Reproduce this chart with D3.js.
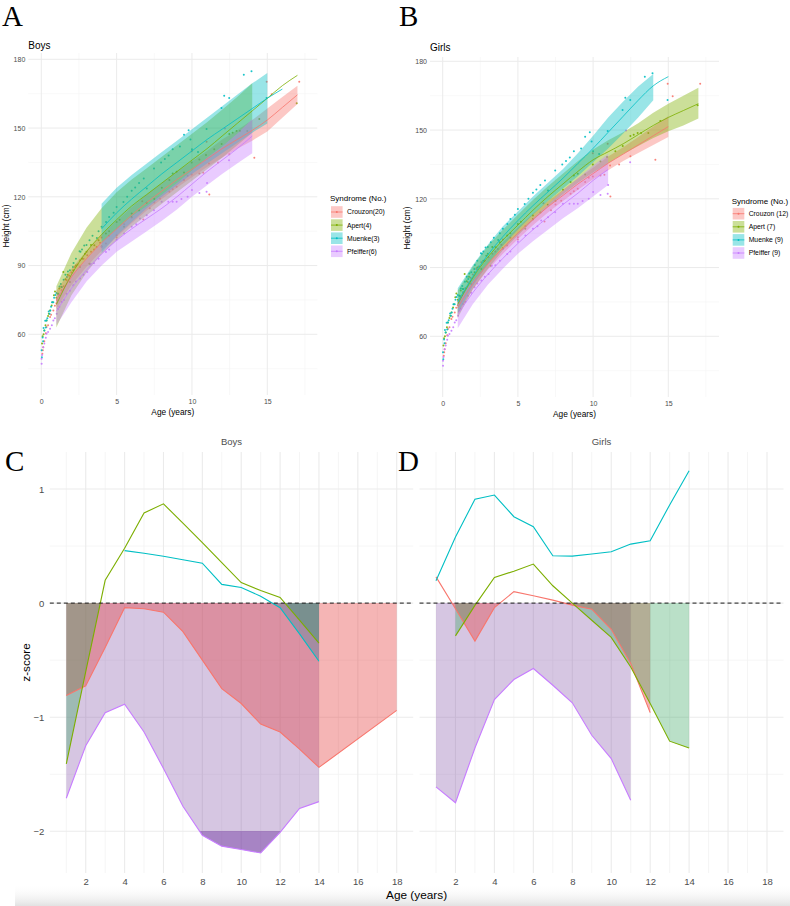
<!DOCTYPE html>
<html><head><meta charset="utf-8">
<script src="https://cdn.jsdelivr.net/npm/d3@7"></script>
<style>body{margin:0;background:#fff}svg{display:block}</style>
</head><body><svg id="c" width="790" height="906"></svg>
<script>
// ---------------- DATA ----------------
const syndromes = ["Crouzon", "Apert", "Muenke", "Pfeiffer"];
const lineColors = ["#F8766D", "#7CAE00", "#00BFC4", "#C77CFF"];
const boysLegend = ["Crouzon(20)", "Apert(4)", "Muenke(3)", "Pfeiffer(6)"];
const girlsLegend = ["Crouzon (12)", "Apert (7)", "Muenke (9)", "Pfeiffer (9)"];
const heightTicks = [60, 90, 120, 150, 180];
const ageTicksTop = [0, 5, 10, 15];
const zTicks = [-2, -1, 0, 1];
const ageTicksZ = [2, 4, 6, 8, 10, 12, 14, 16, 18];

// observed heights [age, cm] (same points shown in panels A and B)
const crouzonPts = [[0.07,51.5],[0.1,53],[0.13,54.4],[0.2,57],[0.3,60.5],[0.35,63.2],[0.45,64],[0.58,67.5],[0.65,68.5],[0.8,70.4],[0.9,72.5],[1.0,73.5],[1.06,74.8],[1.2,77],[1.35,79.2],[1.5,81],[1.68,83.6],[1.85,85.5],[2.0,87],[2.23,89.4],[2.4,90.5],[2.57,92.3],[2.8,93],[3.05,94.5],[3.3,96],[3.5,97],[3.67,98.1],[3.9,100],[4.0,102.2],[4.29,99.6],[4.5,103],[5.0,103.2],[5.0,102.2],[5.5,108],[6.0,111],[6.7,118.1],[6.77,110.1],[7.2,115],[7.5,117.5],[7.88,119.1],[8.5,122.2],[8.72,123.3],[8.98,124.4],[9.47,127.3],[9.71,129.2],[9.98,129.7],[9.98,139.9],[10.49,130.2],[10.75,130.5],[10.97,144],[11.13,134.5],[11.15,121],[11.73,135],[12.48,138.6],[14.14,137],[14.96,170.2],[15.29,164.8],[17.12,170.2]];
const apertPts = [[0.05,56],[0.09,59.1],[0.15,60],[0.2,61.7],[0.28,64],[0.35,66],[0.45,68],[0.5,69],[0.58,70.4],[0.69,72.6],[0.75,74],[0.84,77],[0.91,78.7],[1.0,76],[1.13,77.7],[1.2,80],[1.35,80.6],[1.46,87.2],[1.6,84],[1.75,86],[1.9,82.8],[2.12,87.9],[2.3,90],[2.57,89.4],[2.7,93],[2.9,95.2],[3.0,96],[3.19,90.8],[3.3,99],[3.52,98.9],[3.8,101],[4.0,98.4],[4.29,104],[4.5,105],[5.0,109],[5.2,110],[5.49,106.9],[6.0,111.2],[6.0,112.7],[6.5,114],[6.99,117.4],[7.5,119],[8.0,124],[8.5,127.3],[8.72,130.2],[8.98,130.9],[9.47,130.6],[9.98,135],[10.49,136.3],[10.93,138.2],[11.48,140.8],[11.97,143],[12.48,147.4],[12.7,148],[12.96,148.7],[13.19,148.7],[13.67,148.7],[14.47,153.9],[16.95,160.8]];
const muenkePts = [[0.02,53],[0.04,50],[0.09,58.6],[0.12,57],[0.15,62.7],[0.2,61.7],[0.26,65.9],[0.3,63],[0.35,66],[0.4,67],[0.49,70],[0.55,69],[0.6,70.4],[0.65,72],[0.71,74],[0.8,74],[0.85,76],[0.93,77.2],[1.0,78],[1.1,77.7],[1.21,80.9],[1.3,82],[1.35,80.6],[1.48,83.8],[1.6,86],[1.7,85],[1.77,87.4],[1.9,88],[2.1,89.4],[2.14,91.1],[2.3,93],[2.54,96.2],[2.6,96],[2.7,97],[2.85,98.8],[3.0,99],[3.2,101],[3.4,103],[3.69,102],[3.8,105],[4.0,106.9],[4.3,109],[4.5,111.2],[4.8,113],[5.0,115.6],[5.45,117.7],[5.7,120],[6.0,122.6],[6.23,124.1],[6.49,126],[6.8,128],[7.0,123.6],[7.48,132.3],[7.95,135],[8.2,136.5],[8.45,138],[8.72,140.8],[9.2,142],[9.47,147.1],[9.78,149],[9.9,145],[10.0,140.8],[10.4,139.6],[10.97,149.6],[11.96,158.7],[12.14,164.1],[12.47,163.1],[13.44,173.3],[13.95,174.8],[14.95,163.1]];
const pfeifferPts = [[0.02,47.1],[0.02,49.3],[0.05,51],[0.13,54.4],[0.2,56],[0.3,58.5],[0.35,60.2],[0.45,61],[0.58,62.4],[0.7,64],[0.8,66],[0.9,67],[1.02,69],[1.1,71],[1.2,72],[1.35,74.1],[1.5,75],[1.68,77.7],[1.9,79],[2.12,81.4],[2.3,83],[2.57,84.3],[2.8,86],[3.05,87.2],[3.27,90.8],[3.5,91],[3.8,93],[4.0,98.1],[4.29,95.9],[4.5,97],[5.0,101.3],[5.5,104],[6.0,106.9],[6.3,108],[6.55,110.5],[7.0,112],[7.48,114.1],[7.99,117.8],[8.43,117.8],[8.72,117.8],[8.98,117.8],[9.3,119],[9.71,120],[10.0,123],[10.49,121.7],[10.97,122.2],[11.0,126],[12.19,149.8],[12.46,136]];

// fitted curves [age, cm] and bands [age, lo, hi] - boys
const boysCrouzonFit = [[1,75],[2,85],[3,93],[4,100],[5,106],[6,112],[7,117.5],[8,122.5],[9,127.5],[10,132],[11,136.5],[12,141],[13,145],[14,149],[15,153.5],[16,159],[17,164.5]];
const boysCrouzonBand = [[1,71,79],[2,81.5,88.5],[3,89.5,96.5],[4,96.5,103.5],[5,102.5,109.5],[6,108.5,115.5],[7,114,121],[8,119,126],[9,124,131],[10,128.5,135.5],[11,133,140],[12,137,145],[13,141,149],[14,144.5,153.5],[15,148.5,158.5],[16,154.5,163.5],[17,160.5,168.5]];
const boysApertFit = [[1,73],[2,86],[3,96],[4,103.5],[5,110],[6,116],[7,121],[8,126],[9,131],[10,136],[11,141],[12,146.5],[13,152],[14,157.5],[15,163],[16,168.5],[17,173]];
const boysApertBand = [[1,63,81],[2,77,95.5],[3,87,106.5],[4,95,115],[5,101,122],[6,107,127.5],[7,112,132.5],[8,117,137.5],[9,122,142.5],[10,127,147.5],[11,132,152.5],[12,137,158],[13,142.5,163.5],[14,148,169.5]];
const boysMuenkeFit = [[4,106],[5,113],[6,119],[7,124.5],[8,130],[9,135],[10,140],[11,145],[12,149.5],[13,154],[14,158.5],[15,163],[16,167]];
const boysMuenkeBand = [[4,95.5,117],[5,103,124],[6,109,129.5],[7,115,134.5],[8,120,139.5],[9,125,144.5],[10,130,149.5],[11,134.5,154.5],[12,139,159.5],[13,143.5,164.5],[14,148,169.5],[15,152,174]];
const boysPfeifferFit = [[1,70],[2,80],[3,88],[4,95],[5,101],[6,106],[7,110.5],[8,115],[9,120],[10,125.5],[11,131],[12,136],[13,141],[14,146.5]];
const boysPfeifferBand = [[1,64,76],[2,74,86],[3,83,93],[4,90,100],[5,96,106],[6,100.5,111.5],[7,105,116],[8,109.5,121],[9,114.5,126],[10,120,131.5],[11,125,137],[12,130,142],[13,134.5,147.5],[14,139,154]];

// fitted curves and bands - girls
const girlsCrouzonFit = [[1,72.5],[2,83],[3,91.5],[4,98.5],[5,105],[6,111],[7,116.5],[8,121.5],[9,126.5],[10,131],[11,135.5],[12,139.5],[13,143.5],[14,147.5],[15,151.5]];
const girlsCrouzonBand = [[1,69.5,75.5],[2,80.5,85.5],[3,89,94],[4,96,101],[5,102.5,107.5],[6,108.5,113.5],[7,114,119],[8,119,124],[9,124,129],[10,128.5,133.5],[11,132.5,138.5],[12,136.5,142.5],[13,140,147],[14,143.5,151.5],[15,147,156]];
const girlsApertFit = [[1,74],[2,85.5],[3,94.5],[4,102],[5,108.5],[6,115],[7,121],[8,126.5],[9,132],[10,137],[11,140.5],[12,144],[13,148],[14,152],[15,155.5],[16,158.5],[17,161.5]];
const girlsApertBand = [[1,68,80],[2,80.5,90.5],[3,89.5,99.5],[4,97.5,106.5],[5,104,113],[6,110.5,119.5],[7,116.5,125.5],[8,122,131],[9,127,136.5],[10,131.5,141.5],[11,135.5,145.5],[12,139.5,149],[13,143,153],[14,146.5,157.5],[15,149.5,161.5],[16,152,165],[17,155,168.5]];
const girlsMuenkeFit = [[1,75],[2,86],[3,95.5],[4,103.5],[5,110.5],[6,117],[7,123],[8,129],[9,135.5],[10,142],[11,149],[12,156],[13,163],[14,169.3],[15,173.3]];
const girlsMuenkeBand = [[1,70,81],[2,82,91],[3,91.5,100],[4,99.5,108],[5,106.5,114.5],[6,113,121],[7,119,127],[8,124.5,133],[9,130,140],[10,136,147.5],[11,142,155.5],[12,148.5,162.5],[13,155.5,169],[14,163,174.5]];
const girlsPfeifferFit = [[1,69.5],[2,79],[3,87],[4,94],[5,100.5],[6,106.5],[7,112],[8,117.5],[9,122.5],[10,128],[11,132.8]];
const girlsPfeifferBand = [[1,63.5,75.5],[2,74,84],[3,82.5,91.5],[4,89.5,98.5],[5,96,105],[6,101.5,111.5],[7,106.5,117.5],[8,111.5,123.5],[9,116,129],[10,121,134.5],[11,126,139.5]];

// z-scores [age, z]
const boysZCrouzon = [[1,-0.81],[2,-0.725],[3,-0.39],[4,-0.04],[5,-0.05],[6,-0.08],[7,-0.25],[8,-0.5],[9,-0.75],[10,-0.88],[11,-1.06],[12,-1.13],[13,-1.28],[14,-1.44],[18,-0.94]];
const boysZApert = [[1,-1.41],[2,-0.6],[3,0.2],[4,0.48],[5,0.79],[6,0.87],[7,0.7],[8,0.53],[9,0.355],[10,0.18],[11,0.11],[12,0.05],[13,-0.15],[14,-0.35]];
const boysZMuenke = [[4,0.46],[5,0.437],[6,0.41],[7,0.38],[8,0.35],[9,0.164],[10,0.137],[11,0.06],[12,-0.04],[13,-0.27],[14,-0.51]];
const boysZPfeiffer = [[1,-1.71],[2,-1.25],[3,-0.96],[4,-0.886],[5,-1.13],[6,-1.45],[7,-1.78],[8,-2.035],[9,-2.13],[10,-2.16],[11,-2.19],[12,-2.01],[13,-1.8],[14,-1.74]];
const girlsZCrouzon = [[1,0.23],[2,-0.05],[3,-0.333],[4,-0.04],[5,0.1],[6,0.064],[7,0.026],[8,-0.018],[9,-0.053],[10,-0.23],[11,-0.53],[12,-0.96]];
const girlsZApert = [[2,-0.287],[3,-0.02],[4,0.225],[5,0.28],[6,0.342],[7,0.152],[8,0.0],[9,-0.15],[10,-0.3],[11,-0.56],[12,-0.88],[13,-1.21],[14,-1.27]];
const girlsZMuenke = [[1,0.196],[2,0.58],[3,0.91],[4,0.947],[5,0.757],[6,0.67],[7,0.415],[8,0.412],[9,0.43],[10,0.45],[11,0.517],[12,0.547],[13,0.86],[14,1.16]];
const girlsZPfeiffer = [[1,-1.61],[2,-1.75],[3,-1.27],[4,-0.845],[5,-0.67],[6,-0.573],[7,-0.72],[8,-0.874],[9,-1.158],[10,-1.363],[11,-1.728]];
const zRefLine = 0;
const zDeepLine = -2;

// ---------------- STYLE ----------------
const bandFill = ["rgba(248,118,109,0.4)", "rgba(124,174,0,0.4)", "rgba(0,191,196,0.4)", "rgba(199,124,255,0.4)"];
const zFill = ["rgba(230,60,60,0.38)", "rgba(46,160,87,0.33)", "rgba(0,128,160,0.25)", "rgba(138,92,172,0.35)"];
const zDeepFill = ["rgba(200,40,40,0.45)", "rgba(40,140,80,0.45)", "rgba(0,110,150,0.45)", "rgba(110,50,160,0.45)"];
const SANS = '"Liberation Sans", Arial, Helvetica, sans-serif';
const SERIF = '"Liberation Serif", "Times New Roman", "DejaVu Serif", serif';
const GRID = "#ebebeb", GRIDMINOR = "#f3f3f3";

const svg = d3.select("#c");
svg.append("rect").attr("width", 790).attr("height", 906).attr("fill", "#fff");

// bottom shading strip
const defs = svg.append("defs");
const grad = defs.append("linearGradient").attr("id", "shade").attr("x1", 0).attr("x2", 0).attr("y1", 0).attr("y2", 1);
grad.append("stop").attr("offset", "0%").attr("stop-color", "#fff").attr("stop-opacity", 0);
grad.append("stop").attr("offset", "100%").attr("stop-color", "#e2e2e2").attr("stop-opacity", 1);
svg.append("rect").attr("x", 15).attr("y", 884).attr("width", 775).attr("height", 22).attr("fill", "url(#shade)");

function letter(t, x, y) {
  svg.append("text").attr("x", x).attr("y", y).text(t)
    .attr("font-family", SERIF).attr("font-size", 29).attr("fill", "#000");
}

// ---------------- TOP PANELS ----------------
function drawTop(o) {
  const g = svg.append("g");
  const x = d3.scaleLinear().domain([0, 15]).range(o.xr);
  const y = d3.scaleLinear().domain([60, 180]).range(o.yr);
  const [px0, px1, py0, py1] = o.panel;
  const minorX = [2.5, 7.5, 12.5, 17.5], minorY = [45, 75, 105, 135, 165];
  g.selectAll(null).data(minorX).join("line")
    .attr("x1", d => x(d)).attr("x2", d => x(d)).attr("y1", py0).attr("y2", py1)
    .attr("stroke", GRIDMINOR).attr("stroke-width", 0.6);
  g.selectAll(null).data(minorY).join("line")
    .attr("y1", d => y(d)).attr("y2", d => y(d)).attr("x1", px0).attr("x2", px1)
    .attr("stroke", GRIDMINOR).attr("stroke-width", 0.6);
  g.selectAll(null).data(ageTicksTop).join("line")
    .attr("x1", d => x(d)).attr("x2", d => x(d)).attr("y1", py0).attr("y2", py1)
    .attr("stroke", GRID).attr("stroke-width", 1);
  g.selectAll(null).data(heightTicks).join("line")
    .attr("y1", d => y(d)).attr("y2", d => y(d)).attr("x1", px0).attr("x2", px1)
    .attr("stroke", GRID).attr("stroke-width", 1);

  const ax = g.append("g").attr("transform", `translate(0,${py1})`)
    .call(d3.axisBottom(x).tickValues(ageTicksTop).tickSize(0).tickPadding(4.5));
  const ay = g.append("g").attr("transform", `translate(${px0},0)`)
    .call(d3.axisLeft(y).tickValues(heightTicks).tickSize(0).tickPadding(3));
  [ax, ay].forEach(a => {
    a.select(".domain").remove();
    a.selectAll("text").attr("font-family", SANS).attr("font-size", 7).attr("fill", "#4d4d4d");
  });

  const pts = [crouzonPts, apertPts, muenkePts, pfeifferPts];
  pts.forEach((arr, i) => {
    g.append("g").selectAll("circle").data(arr).join("circle")
      .attr("cx", d => x(d[0])).attr("cy", d => y(d[1])).attr("r", 1)
      .attr("fill", lineColors[i]).attr("opacity", 0.9);
  });
  const area = d3.area().x(d => x(d[0])).y0(d => y(d[1])).y1(d => y(d[2]));
  o.bands.forEach((b, i) => {
    g.append("path").datum(b).attr("d", area).attr("fill", bandFill[i]);
  });
  const line = d3.line().x(d => x(d[0])).y(d => y(d[1])).curve(d3.curveMonotoneX);
  o.fits.forEach((f, i) => {
    g.append("path").datum(f).attr("d", line).attr("fill", "none")
      .attr("stroke", lineColors[i]).attr("stroke-width", 0.8);
  });

  g.append("text").attr("x", o.titleX).attr("y", o.titleY).text(o.title)
    .attr("font-family", SANS).attr("font-size", 10).attr("fill", "#000");
  g.append("text").attr("x", (px0 + px1) / 2).attr("y", o.xlabY).attr("text-anchor", "middle")
    .text("Age (years)").attr("font-family", SANS).attr("font-size", 8.3).attr("fill", "#000");
  g.append("text").attr("transform", `translate(${o.ylabX},${o.ylabY}) rotate(-90)`).attr("text-anchor", "middle")
    .text("Height (cm)").attr("font-family", SANS).attr("font-size", 8.3).attr("fill", "#000");

  const lg = g.append("g").attr("transform", `translate(${o.legX},${o.legY})`);
  lg.append("text").attr("x", 0).attr("y", 0).text("Syndrome (No.)")
    .attr("font-family", SANS).attr("font-size", 8).attr("fill", "#000");
  o.legend.forEach((lab, i) => {
    const cy = o.legRow0 + i * o.legStep;
    lg.append("rect").attr("x", 1).attr("y", cy - 5.8).attr("width", 11.6).attr("height", 11.6).attr("fill", bandFill[i]);
    lg.append("line").attr("x1", 1).attr("x2", 12.6).attr("y1", cy).attr("y2", cy).attr("stroke", lineColors[i]).attr("stroke-width", 0.8);
    lg.append("circle").attr("cx", 6.8).attr("cy", cy).attr("r", 1).attr("fill", lineColors[i]);
    lg.append("text").attr("x", 17).attr("y", cy + 2.4).text(lab)
      .attr("font-family", SANS).attr("font-size", 6.8).attr("fill", "#000");
  });
}

drawTop({
  xr: [41.3, 267.3], yr: [334.3, 59.3], panel: [28.3, 317.3, 53, 395],
  bands: [boysCrouzonBand, boysApertBand, boysMuenkeBand, boysPfeifferBand],
  fits: [boysCrouzonFit, boysApertFit, boysMuenkeFit, boysPfeifferFit],
  title: "Boys", titleX: 28.3, titleY: 49.3,
  xlabY: 414.5, ylabX: 9, ylabY: 226,
  legend: boysLegend, legX: 330, legY: 201, legRow0: 11, legStep: 13.1
});
drawTop({
  xr: [442.7, 668.3], yr: [336.3, 61.3], panel: [430, 719, 57, 397],
  bands: [girlsCrouzonBand, girlsApertBand, girlsMuenkeBand, girlsPfeifferBand],
  fits: [girlsCrouzonFit, girlsApertFit, girlsMuenkeFit, girlsPfeifferFit],
  title: "Girls", titleX: 430, titleY: 51.3,
  xlabY: 416.5, ylabX: 410, ylabY: 228,
  legend: girlsLegend, legX: 731.7, legY: 203.5, legRow0: 10.2, legStep: 13.1
});
letter("A", 2, 26);
letter("B", 399, 26);

// ---------------- BOTTOM PANELS ----------------
const zy = d3.scaleLinear().domain([-2, 1]).range([831.3, 489]);
const zTop = 452, zBot = 873;

function drawZ(o, idx) {
  const g = svg.append("g");
  const x = d3.scaleLinear().domain([1, 18]).range(o.xr);
  const [px0, px1] = o.panel;
  const minorZ = [-1.5, -0.5, 0.5];
  const minorA = [1, 3, 5, 7, 9, 11, 13, 15, 17];
  g.selectAll(null).data(minorZ).join("line")
    .attr("y1", d => zy(d)).attr("y2", d => zy(d)).attr("x1", px0).attr("x2", px1)
    .attr("stroke", GRIDMINOR).attr("stroke-width", 0.8);
  g.selectAll(null).data(minorA).join("line")
    .attr("x1", d => x(d)).attr("x2", d => x(d)).attr("y1", zTop).attr("y2", zBot)
    .attr("stroke", GRIDMINOR).attr("stroke-width", 0.8);
  g.selectAll(null).data(zTicks).join("line")
    .attr("y1", d => zy(d)).attr("y2", d => zy(d)).attr("x1", px0).attr("x2", px1)
    .attr("stroke", GRID).attr("stroke-width", 1.1);
  g.selectAll(null).data(ageTicksZ).join("line")
    .attr("x1", d => x(d)).attr("x2", d => x(d)).attr("y1", zTop).attr("y2", zBot)
    .attr("stroke", GRID).attr("stroke-width", 1.1);

  const ax = g.append("g").attr("transform", `translate(0,${zBot})`)
    .call(d3.axisBottom(x).tickValues(ageTicksZ).tickSize(0).tickPadding(5.4));
  ax.select(".domain").remove();
  ax.selectAll("text").attr("font-family", SANS).attr("font-size", 9.5).attr("fill", "#4d4d4d");
  if (o.yAxis) {
    const ay = g.append("g").attr("transform", `translate(${px0},0)`)
      .call(d3.axisLeft(zy).tickValues(zTicks).tickSize(0).tickPadding(5.5).tickFormat(d3.format("d")));
    ay.select(".domain").remove();
    ay.selectAll("text").attr("font-family", SANS).attr("font-size", 9.5).attr("fill", "#4d4d4d");
  }

  const y0 = Math.round(zy(zRefLine)), y2 = Math.round(zy(zDeepLine));
  const c0 = "clip0_" + idx, c2 = "clip2_" + idx;
  defs.append("clipPath").attr("id", c0).append("rect")
    .attr("x", px0).attr("y", y0).attr("width", px1 - px0).attr("height", zBot - y0);
  defs.append("clipPath").attr("id", c2).append("rect")
    .attr("x", px0).attr("y", y2).attr("width", px1 - px0).attr("height", zBot - y2);

  const order = [3, 0, 1, 2];
  order.forEach(i => {
    const d = o.series[i];
    g.append("path").datum(d).attr("clip-path", `url(#${c0})`)
      .attr("d", d3.area().x(p => x(p[0])).y0(y0 - 2).y1(p => zy(p[1])))
      .attr("fill", zFill[i]);
    if (d3.min(d, p => p[1]) < zDeepLine) {
      g.append("path").datum(d).attr("clip-path", `url(#${c2})`)
        .attr("d", d3.area().x(p => x(p[0])).y0(y2 - 3).y1(p => zy(p[1])))
        .attr("fill", zDeepFill[i]);
    }
  });
  const line = d3.line().x(p => x(p[0])).y(p => zy(p[1]));
  [0, 1, 2, 3].forEach(i => {
    g.append("path").datum(o.series[i]).attr("d", line).attr("fill", "none")
      .attr("stroke", lineColors[i]).attr("stroke-width", 1.1);
  });
  g.append("line").attr("x1", px0).attr("x2", px1).attr("y1", zy(zRefLine)).attr("y2", zy(zRefLine))
    .attr("stroke", "#1a1a1a").attr("stroke-width", 1).attr("stroke-dasharray", "4,3");

  g.append("text").attr("x", (px0 + px1) / 2).attr("y", 445).attr("text-anchor", "middle")
    .text(o.title).attr("font-family", SANS).attr("font-size", 9.5).attr("fill", "#4d4d4d");
}

drawZ({ xr: [66.3, 396.7], panel: [49.8, 413.2], yAxis: true, title: "Boys",
  series: [boysZCrouzon, boysZApert, boysZMuenke, boysZPfeiffer] }, 0);
drawZ({ xr: [436, 767], panel: [419.5, 783.5], yAxis: false, title: "Girls",
  series: [girlsZCrouzon, girlsZApert, girlsZMuenke, girlsZPfeiffer] }, 1);

svg.append("text").attr("transform", "translate(30,662.5) rotate(-90)").attr("text-anchor", "middle")
  .text("z-score").attr("font-family", SANS).attr("font-size", 11.7).attr("fill", "#000");
svg.append("text").attr("x", 416.6).attr("y", 899).attr("text-anchor", "middle")
  .text("Age (years)").attr("font-family", SANS).attr("font-size", 11.8).attr("fill", "#000");
letter("C", 5, 471);
letter("D", 398, 471);
</script></body></html>
